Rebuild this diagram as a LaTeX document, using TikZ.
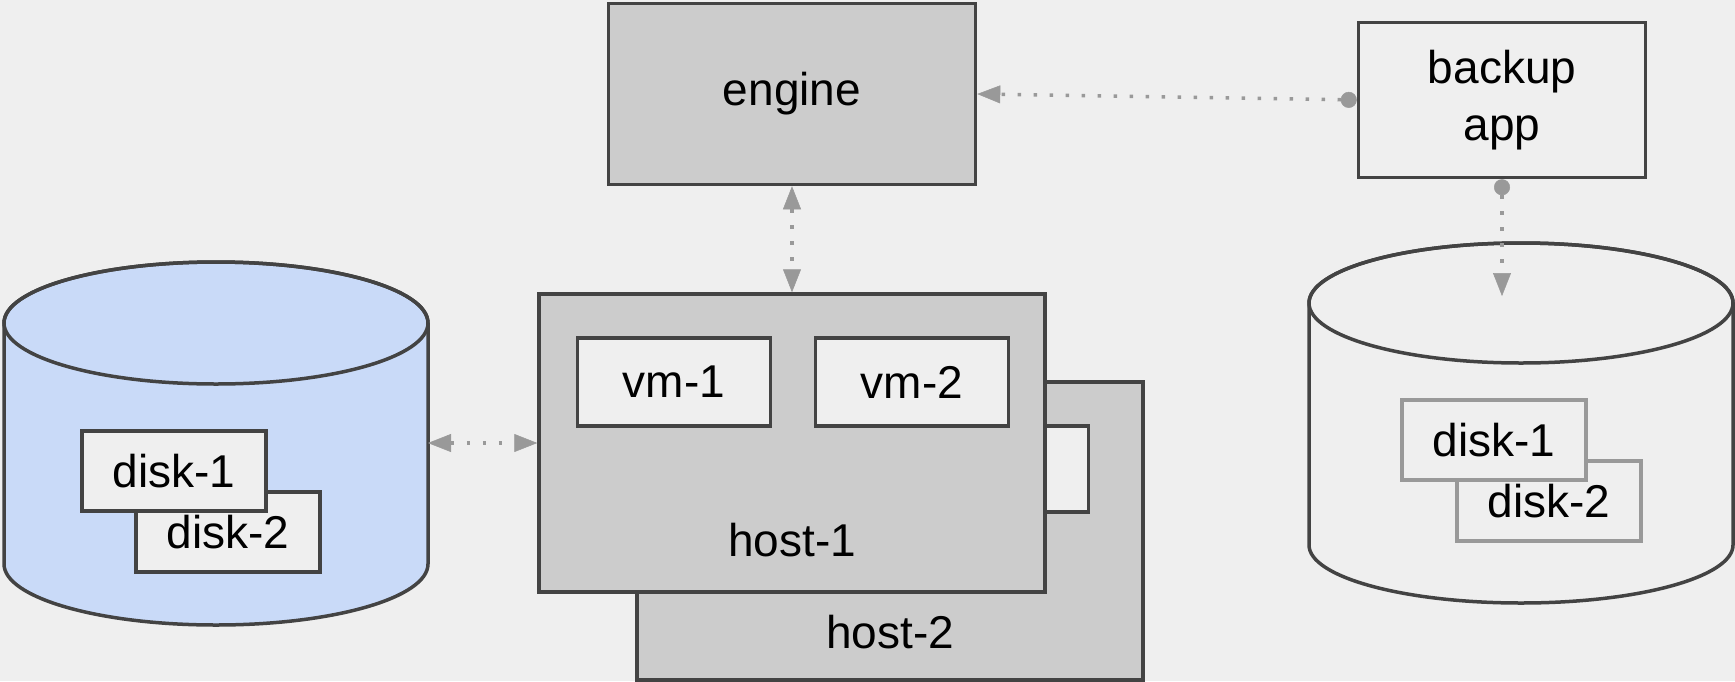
\documentclass[tikz,border=0pt]{standalone}
\usepackage{fontspec}
\setmainfont{Liberation Sans}
\usetikzlibrary{arrows.meta,positioning}

\definecolor{bggray}{HTML}{EFEFEF}
\definecolor{boxgray}{HTML}{CCCCCC}
\definecolor{edgegray}{HTML}{434343}
\definecolor{linkgray}{HTML}{999999}
\definecolor{dbblue}{HTML}{C9DAF8}

\begin{document}
\begin{tikzpicture}[x=1pt, y=-1pt,
    labeltext/.style={font=\fontsize{46}{57}\selectfont, inner sep=0pt, align=center},
    box/.style={labeltext, draw=edgegray, line width=3.5pt, rectangle},
    hostbox/.style={box, fill=boxgray, minimum width=506pt, minimum height=298pt},
    vmbox/.style={box, fill=bggray, minimum width=193pt, minimum height=88pt},
    diskbox/.style={box, fill=bggray, minimum width=184pt, minimum height=80pt},
    dbbody/.style={draw=edgegray, line width=3.5pt},
    link/.style={draw=linkgray, line width=3.5pt, dash pattern=on 3.5pt off 12.5pt},
    head/.tip={Triangle[length=23pt, width=18pt, line width=0.5pt]},
    dot/.tip={Circle[length=16pt, line width=0.5pt]}
  ]
  \useasboundingbox (0,0) rectangle (1735,681);
  \fill[bggray] (0,0) rectangle (1735,681);

  % storage on the left
  \filldraw[dbbody, fill=dbblue] (4,323) -- (4,564)
    arc[start angle=180, end angle=0, x radius=212, y radius=61]
    -- (428,323) arc[start angle=0, end angle=-180, x radius=212, y radius=61] -- cycle;
  \draw[dbbody] (216,323) ellipse[x radius=212, y radius=61];
  \coordinate (leftdb) at (428,443);
  \node[diskbox] (ldisk2) at (228,532) {disk-2};
  \node[diskbox] (ldisk1) at (174,471) {disk-1};

  % backup storage on the right
  \filldraw[dbbody, fill=bggray] (1309,303) -- (1309,545)
    arc[start angle=180, end angle=0, x radius=212, y radius=58]
    -- (1733,303) arc[start angle=0, end angle=-180, x radius=212, y radius=60] -- cycle;
  \draw[dbbody] (1521,303) ellipse[x radius=212, y radius=60];
  \coordinate (rightdb) at (1502,296);
  \node[diskbox, draw=linkgray] (rdisk2) at (1549,501) {disk-2};
  \node[diskbox, draw=linkgray] (rdisk1) at (1494,440) {disk-1};

  % hosts
  \node[hostbox] (host2) at (890,531) {};
  \node[labeltext] at ([yshift=50pt]host2.south) {host-2};
  \node[vmbox, minimum height=86pt] (host2vm) at (992,469) {};
  \node[hostbox] (host1) at (792,443) {};
  \node[labeltext] at ([yshift=54pt]host1.south) {host-1};
  \node[vmbox] (vm1) at (674,382) {vm-1};
  \node[vmbox] (vm2) at (912,382) {vm-2};

  \node[box, fill=boxgray, minimum width=367pt, minimum height=181pt] (engine) at (792,94) {engine};
  \node[box, fill=bggray, minimum width=287pt, minimum height=155pt] (backup) at (1502,100) {backup\\app};

  \draw[link, dot-head] (backup.west) -- (engine.east);
  \draw[link, head-head] (engine.south) -- (host1.north);
  \draw[link, head-head] (leftdb) -- (host1.west);
  \draw[link, dot-head] (backup.south) -- (rightdb);
\end{tikzpicture}
\end{document}
